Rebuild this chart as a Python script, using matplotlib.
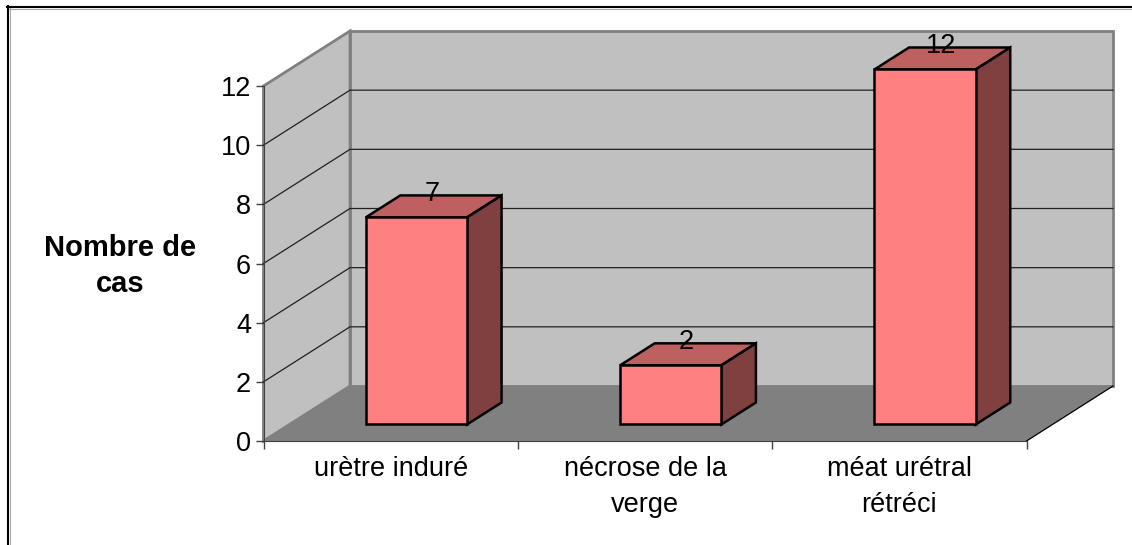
"""
Nombre de cas, barres 3D dessinees a la main
"""
import matplotlib
matplotlib.use('Agg')
import matplotlib.pyplot as plt
from matplotlib.patches import Polygon

plt.rcParams['font.family'] = ['Liberation Sans', 'DejaVu Sans']

categories = ['urètre induré', 'nécrose de la\nverge', 'méat urétral\nrétréci']
valeurs = [7, 2, 12]
yticks = [0, 2, 4, 6, 8, 10, 12]

W, H = 1132, 545
# decalage de profondeur, en unites de donnees
DX = 86.5 / 254.33
DY = 55 / 29.58


def proj(x, y, d):
    return x + DX * d, y + DY * d


def face(ax, pts, **kw):
    ax.add_patch(Polygon(pts, closed=True, clip_on=False, **kw))


def barre(ax, i, v):
    x0, x1 = i + 0.3, i + 0.698
    d0, d1 = 0.3, 0.7
    style = dict(edgecolor='black', linewidth=1.8, joinstyle='miter', zorder=5)
    face(ax, [proj(x0, v, d0), proj(x1, v, d0), proj(x1, v, d1), proj(x0, v, d1)],
         facecolor='#bf6060', **style)
    face(ax, [proj(x1, 0, d0), proj(x1, 0, d1), proj(x1, v, d1), proj(x1, v, d0)],
         facecolor='#804040', **style)
    face(ax, [proj(x0, 0, d0), proj(x1, 0, d0), proj(x1, v, d0), proj(x0, v, d0)],
         facecolor='#ff8080', **style)
    tx = proj(i + 0.5, v, 0.48)[0]
    ty = proj(i + 0.5, v, 0.7)[1] + 0.05
    ax.text(tx, ty, str(v), ha='center', va='center', fontsize=19.5, color='black', zorder=6)


def main():
    fig = plt.figure(figsize=(W / 100, H / 100), dpi=100)
    ax = fig.add_axes([263.5 / W, 1 - 441 / H, (1026.5 - 263.5) / W, (441 - 86) / H])
    ax.set_xlim(0, 3)
    ax.set_ylim(0, 12)
    ax.patch.set_visible(False)

    # cadre, avec son ombre grise
    fig.add_artist(plt.Line2D([9.8 / W, 9.8 / W], [0, 1 - 8 / H], color='#a8a8a8', lw=0.8))
    fig.add_artist(plt.Line2D([9 / W, 1], [1 - 8.8 / H, 1 - 8.8 / H], color='#a8a8a8', lw=0.8))
    fig.add_artist(plt.Line2D([8 / W, 8 / W], [0, 1 - 6 / H], color='black', lw=1.5))
    fig.add_artist(plt.Line2D([7 / W, 1], [1 - 7 / H, 1 - 7 / H], color='black', lw=1.5))

    # murs et sol
    gris = dict(edgecolor='#808080', linewidth=2, joinstyle='miter', zorder=1)
    face(ax, [proj(0, 0, 1), proj(3, 0, 1), proj(3, 12, 1), proj(0, 12, 1)],
         facecolor='#c0c0c0', **gris)
    face(ax, [proj(0, 0, 0), proj(0, 0, 1), proj(0, 12, 1), proj(0, 12, 0)],
         facecolor='#c0c0c0', **gris)
    face(ax, [proj(0, 0, 0), proj(3, 0, 0), proj(3, 0, 1), proj(0, 0, 1)],
         facecolor='#808080', edgecolor='none', zorder=2)
    ax.plot(*zip(proj(3, 0, 0), proj(3, 0, 1)), color='black', lw=0.9, zorder=2, clip_on=False)

    # grille
    for t in yticks[1:-1]:
        ax.plot(*zip(proj(0, t, 0), proj(0, t, 1), proj(3, t, 1)),
                color='#202020', lw=0.9, zorder=2, clip_on=False)

    for i, v in enumerate(valeurs):
        barre(ax, i, v)

    # axes
    for s in ['top', 'right']:
        ax.spines[s].set_visible(False)
    ax.spines['left'].set_color('#404040')
    ax.spines['bottom'].set_color('#404040')
    ax.spines['left'].set_zorder(3)
    ax.spines['bottom'].set_zorder(3)
    ax.set_yticks(yticks)
    ax.set_xticks([0, 1, 2, 3])
    ax.set_xticklabels([])
    ax.tick_params(axis='both', length=6, width=1, color='#404040', labelsize=19.5, pad=3)
    ax.set_xticks([0.5, 1.5, 2.5], labels=categories, minor=True)
    ax.tick_params(axis='x', which='minor', length=0, labelsize=19.5, pad=11)
    for lab in ax.get_xticklabels(minor=True):
        lab.set_linespacing(1.47)

    fig.text(120 / W, 1 - 266 / H, 'Nombre de\ncas', ha='center', va='center',
             fontsize=21, fontweight='bold', linespacing=1.36)

    fig.savefig('out.png', dpi=100)


if __name__ == '__main__':
    main()
